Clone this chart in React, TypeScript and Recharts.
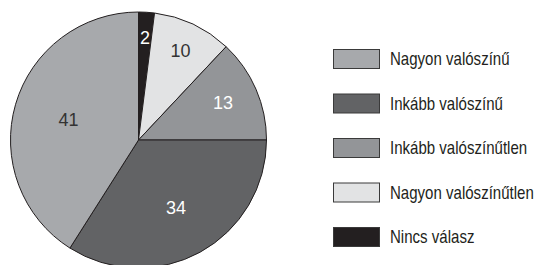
import React from 'react';
import { PieChart, Pie, Cell, Legend } from 'recharts';

const categories = ['Nincs válasz', 'Nagyon valószínűtlen', 'Inkább valószínűtlen', 'Inkább valószínű', 'Nagyon valószínű'];
const values = [2, 10, 13, 34, 41];
const colors = ['#231f20', '#e2e3e4', '#939598', '#626365', '#a7a9ac'];
const labelColors = ['#ffffff', '#333333', '#ffffff', '#ffffff', '#333333'];
const legendOrder = ['Nagyon valószínű', 'Inkább valószínű', 'Inkább valószínűtlen', 'Nagyon valószínűtlen', 'Nincs válasz'];

const data = categories.map((name, i) => ({ name, value: values[i] }));

// layout constants
const labelRadiusFrac = [0.8, 0.77, 0.72, 0.61, 0.57];
const FONT = '"Liberation Sans", Arial, sans-serif';
const RAD = Math.PI / 180;
const TEXT_SCALE = 0.86;

const renderLabel = (props: any) => {
  const { cx, cy, midAngle, outerRadius, index, value } = props;
  const r = outerRadius * labelRadiusFrac[index];
  const x = cx + r * Math.cos(-midAngle * RAD);
  const y = cy + r * Math.sin(-midAngle * RAD);
  return (
    <text x={x} y={y} fill={labelColors[index]} textAnchor="middle" dominantBaseline="central"
      fontFamily={FONT} fontSize={18}>
      {value}
    </text>
  );
};

const renderLegend = (props: any) => {
  const items = [...(props.payload || [])].sort(
    (a: any, b: any) => legendOrder.indexOf(a.value) - legendOrder.indexOf(b.value)
  );
  return (
    <svg width={214} height={220} style={{ display: 'block' }}>
      {items.map((p: any, i: number) => {
        const top = 9 + i * 44.5;
        const idx = categories.indexOf(p.value);
        return (
          <g key={p.value}>
            <rect x={0.5} y={top + 0.5} width={46} height={19} fill={colors[idx]} stroke="#3a3a3a" strokeWidth={1} />
            <g transform={`translate(57, ${top + 10}) scale(${TEXT_SCALE}, 1)`}>
              <text x={0} y={0} dominantBaseline="central" fontFamily={FONT} fontSize={17.5} fill="#231f20">
                {p.value}
              </text>
            </g>
          </g>
        );
      })}
    </svg>
  );
};

export default function App() {
  return (
    <div style={{ position: 'absolute', left: 0, top: 0, width: 547, height: 265, background: '#ffffff' }}>
      <PieChart width={547} height={265} margin={{ top: 0, right: 0, bottom: 0, left: 0 }}>
        <Pie
          data={data}
          dataKey="value"
          nameKey="name"
          cx={138.5}
          cy={140}
          outerRadius={128}
          startAngle={90}
          endAngle={-270}
          stroke="#231f20"
          strokeWidth={1}
          label={renderLabel}
          labelLine={false}
          isAnimationActive={false}
        >
          {data.map((d, i) => (
            <Cell key={d.name} fill={colors[i]} />
          ))}
        </Pie>
        <Legend
          content={renderLegend}
          wrapperStyle={{ position: 'absolute', left: 333, top: 40, width: 214, height: 220 }}
        />
      </PieChart>
    </div>
  );
}
